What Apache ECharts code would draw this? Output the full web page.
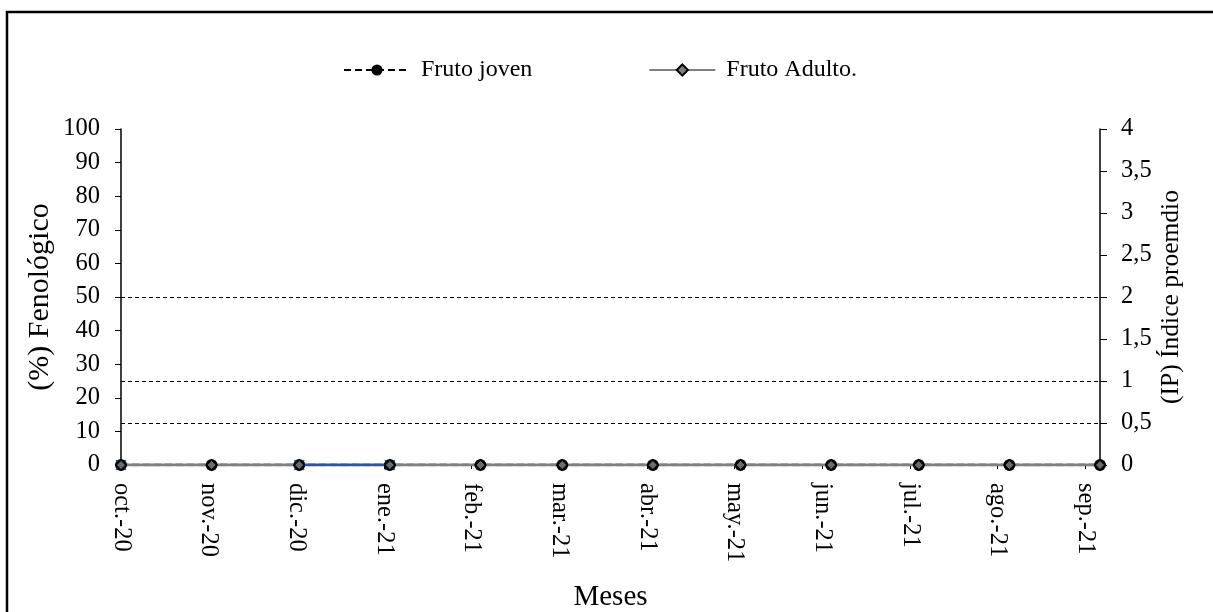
<!DOCTYPE html>
<html>
<head>
<meta charset="utf-8">
<script src="https://cdn.jsdelivr.net/npm/echarts@6/dist/echarts.min.js"></script>
<style>
html,body{margin:0;padding:0;background:#fff;}
#chart{width:1213px;height:612px;}
</style>
</head>
<body>
<div id="chart"></div>
<script>
// ---- data ----
var sampleDates = ['2020-10-01','2020-11-01','2020-12-01','2021-01-01','2021-02-01','2021-03-01','2021-04-01','2021-05-01','2021-06-01','2021-07-01','2021-08-01','2021-09-01'];
var frutoJoven = [0,0,0,0,0,0,0,0,0,0,0,0];
var frutoAdulto = [0,0,0,0,0,0,0,0,0,0,0,0];
var serieAzul = [0,null,0,0,null,null,null,null,null,null,null,null];
var monthLabels = ['oct.-20','nov.-20','dic.-20','ene.-21','feb.-21','mar.-21','abr.-21','may.-21','jun.-21','jul.-21','ago.-21','sep.-21'];
var tickStepDays = 30;
var refLevels = [50, 25, 12.5];
var leftTicks = {min:0, max:100, interval:10};
var rightTicks = {min:0, max:4, interval:0.5};

// ---- helpers ----
var DAY = 86400000;
function toUTC(s){ var p = s.split('-'); return Date.UTC(+p[0], +p[1]-1, +p[2]); }
var t0 = toUTC(sampleDates[0]);
var xs = sampleDates.map(function(s){ return Math.round((toUTC(s) - t0)/DAY); });
function pairs(vals){ return vals.map(function(v,i){ return [xs[i], v]; }); }
var tickVals = monthLabels.map(function(_,i){ return i*tickStepDays; });

var FONT = 'Liberation Serif';
var xMark = 'path://M0,0 L10,10 M10,0 L0,10';

var chart = echarts.init(document.getElementById('chart'));
chart.setOption({
  backgroundColor:'#fff',
  animation:false,
  textStyle:{fontFamily:FONT, color:'#000'},
  graphic:[
    {type:'polyline', shape:{points:[[7,640],[7,12],[1240,12]]}, style:{stroke:'#000', lineWidth:2.5, fill:null}}
  ],
  legend:{
    top:58,
    left:343,
    padding:0,
    itemWidth:66,
    itemHeight:14,
    itemGap:116,
    data:['Fruto joven','Fruto Adulto.'],
    textStyle:{fontFamily:FONT, fontSize:24, color:'#000', padding:[0,0,0,6]}
  },
  grid:{left:121, right:113, top:129, bottom:147, outerBoundsMode:'none', containLabel:false},
  xAxis:{
    type:'value',
    min:0,
    max:xs[xs.length-1],
    name:'Meses',
    nameLocation:'middle',
    nameGap:118,
    nameMoveOverlap:false,
    nameTextStyle:{fontFamily:FONT, fontSize:29, color:'#000'},
    axisLine:{show:true, onZero:false, lineStyle:{color:'#000', width:1.5}},
    axisTick:{show:true, customValues:tickVals, length:4, lineStyle:{color:'#000'}},
    axisLabel:{
      customValues:tickVals,
      rotate:-90,
      margin:18,
      fontFamily:FONT, fontSize:24.5, color:'#000',
      formatter:function(v){ var i = Math.round(v/tickStepDays); return monthLabels[i] || ''; }
    },
    splitLine:{show:false}
  },
  yAxis:[
    {
      type:'value', min:leftTicks.min, max:leftTicks.max, interval:leftTicks.interval,
      name:'(%) Fenológico', nameLocation:'middle', nameGap:66, nameRotate:90,
      nameMoveOverlap:false,
      nameTextStyle:{fontFamily:FONT, fontSize:30, color:'#000'},
      axisLine:{show:true, lineStyle:{color:'#000', width:1.5}},
      axisTick:{show:true, inside:false, length:6, lineStyle:{color:'#000'}},
      axisLabel:{fontFamily:FONT, fontSize:24.5, color:'#000', margin:21},
      splitLine:{show:false}
    },
    {
      type:'value', min:rightTicks.min, max:rightTicks.max, interval:rightTicks.interval,
      position:'right',
      name:'(IP) Índice proemdio', nameLocation:'middle', nameGap:58, nameRotate:90,
      nameMoveOverlap:false,
      nameTextStyle:{fontFamily:FONT, fontSize:25.5, color:'#000'},
      axisLine:{show:true, lineStyle:{color:'#000', width:1.5}},
      axisTick:{show:true, inside:false, length:7, lineStyle:{color:'#000'}},
      axisLabel:{fontFamily:FONT, fontSize:24.5, color:'#000', margin:21,
        formatter:function(v){ return String(v).replace('.', ','); }},
      splitLine:{show:false}
    }
  ],
  series:[
    {
      name:'Fruto joven', type:'line', yAxisIndex:0, z:2,
      data:pairs(frutoJoven),
      symbol:'circle', symbolSize:11,
      itemStyle:{color:'#000'},
      lineStyle:{color:'#000', width:2.5, type:[7,4]},
      markLine:{
        silent:true, symbol:['none','none'], label:{show:false},
        lineStyle:{color:'#000', width:1.2, type:[4,3]},
        data:refLevels.map(function(v){ return {yAxis:v}; })
      }
    },
    {
      name:'Fruto Adulto.', type:'line', yAxisIndex:0, z:3,
      data:pairs(frutoAdulto),
      symbol:'diamond', symbolSize:11,
      itemStyle:{color:'#7f7f7f', borderColor:'#000', borderWidth:1.2},
      lineStyle:{color:'#808080', width:3}
    },
    {
      name:'azul', type:'line', yAxisIndex:0, z:4,
      data:pairs(serieAzul),
      connectNulls:false,
      symbol:xMark, symbolSize:10, showSymbol:true,
      itemStyle:{color:'#4472c4', borderColor:'#4472c4', borderWidth:1.5},
      lineStyle:{color:'#2f55a4', width:2.5}
    },
    {
      name:'marcas', type:'scatter', yAxisIndex:0, z:5,
      data:pairs(frutoJoven),
      symbol:'circle', symbolSize:12,
      itemStyle:{color:'#000'}
    },
    {
      name:'marcas2', type:'scatter', yAxisIndex:0, z:6,
      data:pairs(frutoAdulto),
      symbol:'diamond', symbolSize:9,
      itemStyle:{color:'#7f7f7f', borderColor:'#000', borderWidth:1}
    }
  ]
});
</script>
</body>
</html>
